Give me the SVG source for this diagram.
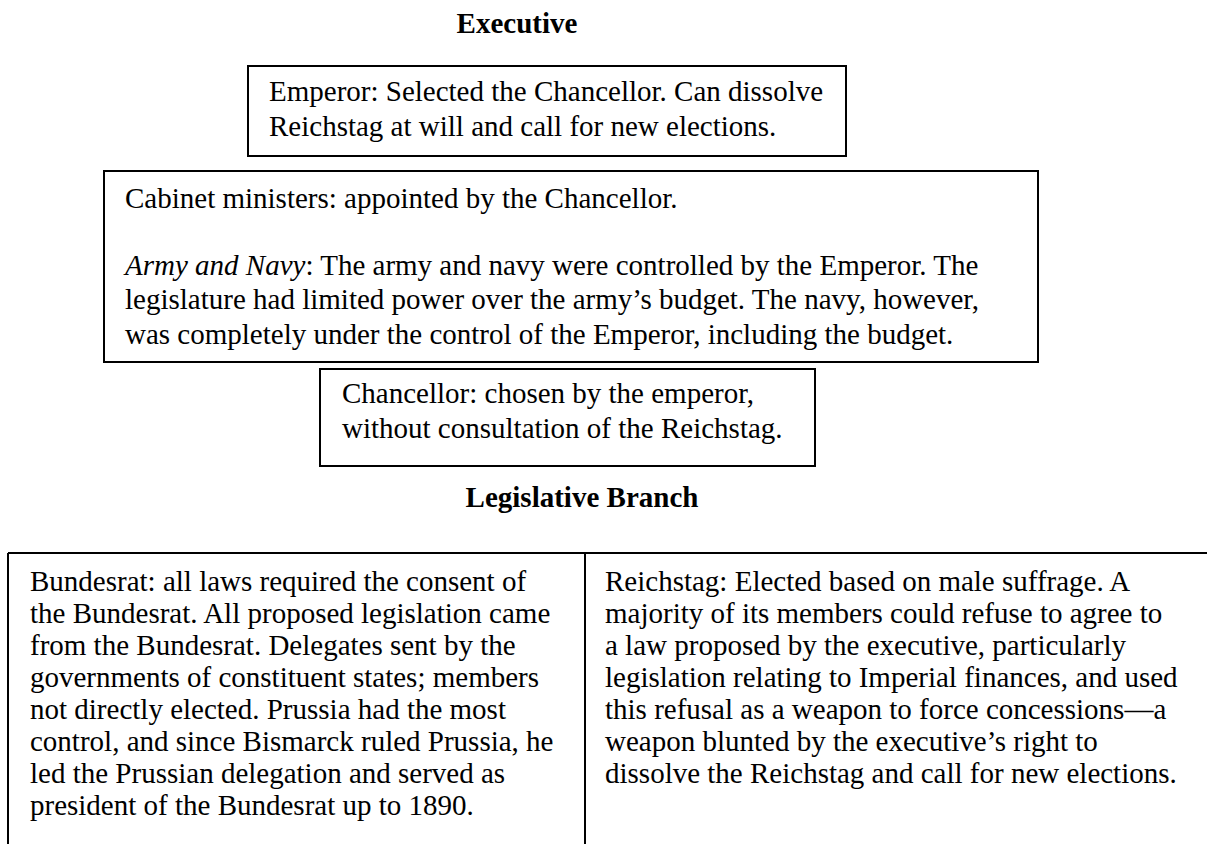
<svg xmlns="http://www.w3.org/2000/svg" width="1207" height="844" viewBox="0 0 1207 844">
<style>
.t{font-family:"Liberation Serif","Times New Roman",serif;font-size:29px;fill:#000}
.h{font-family:"Liberation Serif","Times New Roman",serif;font-size:29px;font-weight:bold;fill:#000}
.b{fill:#fff;stroke:#000;stroke-width:2}
.ln{stroke:#000;stroke-width:2;fill:none}
</style>
<rect width="1207" height="844" fill="#fff"/>
<text class="h" x="517" y="33" text-anchor="middle">Executive</text>
<g id="emperor">
<rect class="b" x="248" y="66" width="598" height="90"/>
<text class="t" x="269" y="101">Emperor: Selected the Chancellor. Can dissolve</text>
<text class="t" x="269" y="136">Reichstag at will and call for new elections.</text>
</g>
<g id="cabinet">
<rect class="b" x="104" y="171" width="934" height="191"/>
<text class="t" x="125" y="208">Cabinet ministers: appointed by the Chancellor.</text>
<text class="t" x="125" y="275"><tspan font-style="italic">Army and Navy</tspan>: The army and navy were controlled by the Emperor. The</text>
<text class="t" x="125" y="309">legislature had limited power over the army’s budget. The navy, however,</text>
<text class="t" x="125" y="344">was completely under the control of the Emperor, including the budget.</text>
</g>
<g id="chancellor">
<rect class="b" x="320" y="369" width="495" height="97"/>
<text class="t" x="342" y="403">Chancellor: chosen by the emperor,</text>
<text class="t" x="342" y="438">without consultation of the Reichstag.</text>
</g>
<text class="h" x="582" y="507" text-anchor="middle">Legislative Branch</text>
<g id="connectors">
<line class="ln" x1="8" y1="553" x2="1207" y2="553"/>
<line class="ln" x1="8" y1="553" x2="8" y2="844"/>
<line class="ln" x1="585" y1="553" x2="585" y2="844"/>
</g>
<g id="bundesrat">
<text class="t" x="30" y="591">Bundesrat: all laws required the consent of</text>
<text class="t" x="30" y="623">the Bundesrat. All proposed legislation came</text>
<text class="t" x="30" y="655">from the Bundesrat. Delegates sent by the</text>
<text class="t" x="30" y="687">governments of constituent states; members</text>
<text class="t" x="30" y="719">not directly elected. Prussia had the most</text>
<text class="t" x="30" y="751">control, and since Bismarck ruled Prussia, he</text>
<text class="t" x="30" y="783">led the Prussian delegation and served as</text>
<text class="t" x="30" y="815">president of the Bundesrat up to 1890.</text>
</g>
<g id="reichstag">
<text class="t" x="605" y="591">Reichstag: Elected based on male suffrage. A</text>
<text class="t" x="605" y="623">majority of its members could refuse to agree to</text>
<text class="t" x="605" y="655">a law proposed by the executive, particularly</text>
<text class="t" x="605" y="687">legislation relating to Imperial finances, and used</text>
<text class="t" x="605" y="719">this refusal as a weapon to force concessions—a</text>
<text class="t" x="605" y="751">weapon blunted by the executive’s right to</text>
<text class="t" x="605" y="783">dissolve the Reichstag and call for new elections.</text>
</g>
</svg>
